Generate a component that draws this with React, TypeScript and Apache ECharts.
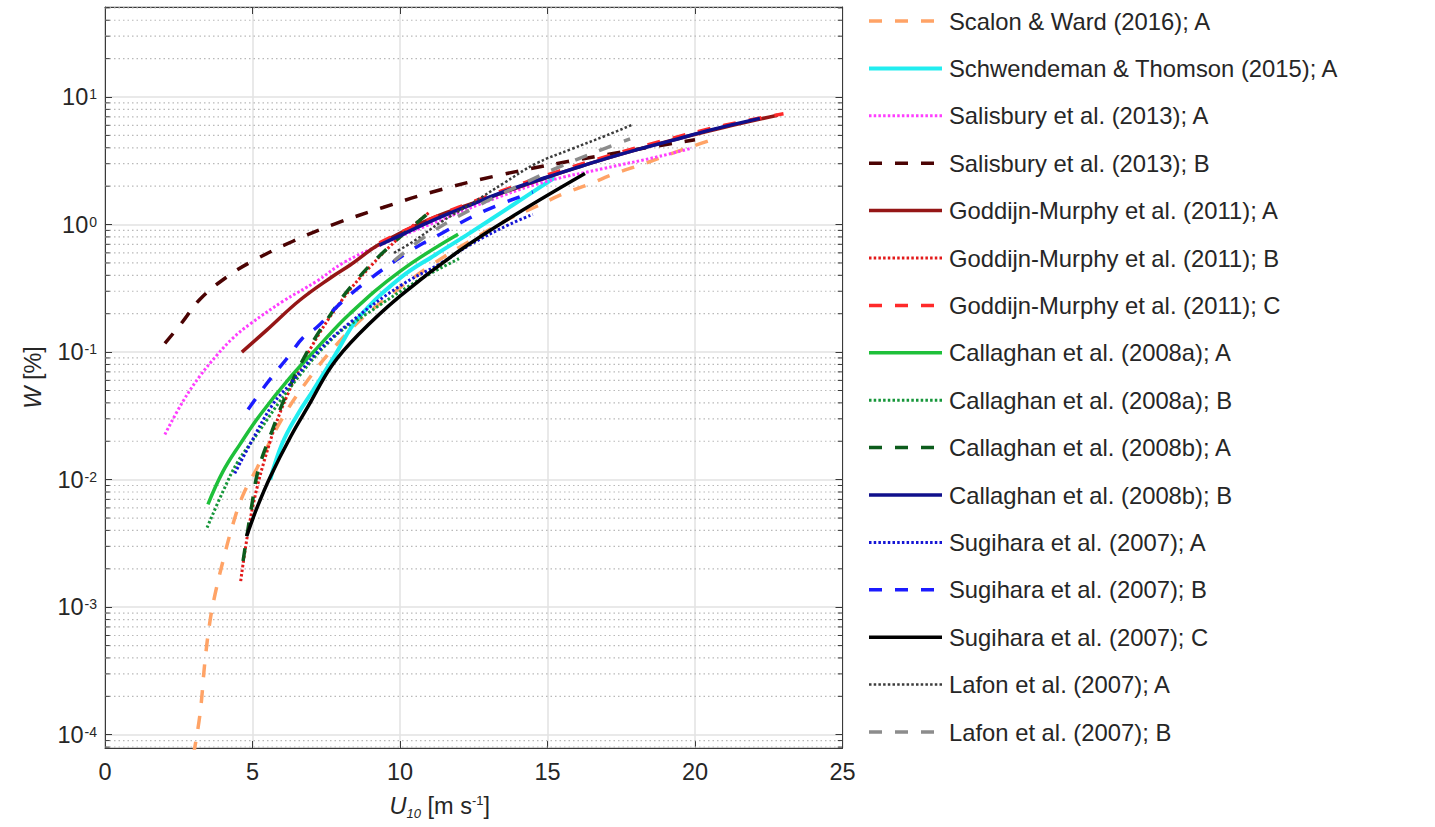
import React, { useEffect, useRef } from "react";
import * as echarts from "echarts";

const FONT = "'Liberation Sans', Arial, Helvetica, sans-serif";
const TEXT = "#262626";
const AXIS = "#3a3a3a";

// axes
const X_MIN = 0;
const X_MAX = 25;
const X_STEP = 5;
const Y_MIN = 7.87e-5;
const Y_MAX = 50.8;
const minorMultipliers = [2, 3, 4, 5, 6, 7, 8, 9];
const decadeExponents = [-5, -4, -3, -2, -1, 0, 1];

// data: U10 [m/s] and W [%]
const scalonU = [3.0, 3.22, 3.39, 3.56, 3.73, 4.0, 4.34, 4.68, 5.15, 6.0, 7.0, 8.0, 9.0, 10, 11, 12, 12.8, 13.8, 14.6, 15.5, 16.4, 17.3, 18.2, 19.2, 20.2, 20.85];
const scalonW = [7.0e-5, 1.45e-4, 3.8e-4, 7.8e-4, 1.26e-3, 2.3e-3, 4.5e-3, 7.6e-3, 0.0123, 0.03, 0.066, 0.125, 0.21, 0.32, 0.47, 0.66, 0.85, 1.14, 1.38, 1.73, 2.07, 2.52, 2.96, 3.6, 4.33, 4.84];

const schwU = [5.6, 6.0, 6.5, 7.05, 7.8, 8.58, 10, 11.2, 12.27, 13.8, 15.25];
const schwW = [0.01, 0.019, 0.0316, 0.05, 0.095, 0.184, 0.38, 0.58, 0.83, 1.41, 2.34];

const salAU = [2.03, 2.64, 3.22, 3.8, 4.34, 4.92, 6.03, 7.18, 8.07, 9.32, 11, 13.4, 15, 16.9, 18.8, 19.9];
const salAW = [0.0226, 0.041, 0.065, 0.095, 0.129, 0.166, 0.25, 0.36, 0.5, 0.69, 1.0, 1.66, 2.19, 2.75, 3.43, 3.98];

const salBU = [2.03, 2.64, 3.22, 4.14, 5.02, 6.37, 7.73, 9.42, 11.1, 13.4, 16.8, 20];
const salBW = [0.117, 0.174, 0.26, 0.39, 0.52, 0.74, 1.0, 1.36, 1.8, 2.45, 3.47, 4.62];

const gmAU = [4.64, 5.5, 6.6, 7.7, 8.3, 9.3, 11, 13, 15, 17, 19, 21, 22.8];
const gmAW = [0.1, 0.15, 0.255, 0.39, 0.48, 0.7, 1.1, 1.62, 2.35, 3.3, 4.45, 5.8, 7.2];

const gmBU = [4.6, 5.0, 5.6, 6.2, 7.0, 8.0, 9.0, 10.0, 11.0];
const gmBW = [0.0016, 0.006, 0.02, 0.047, 0.11, 0.25, 0.47, 0.8, 1.25];

const gmCU = [9.3, 11, 13, 15, 17, 19, 21, 23];
const gmCW = [0.72, 1.1, 1.68, 2.45, 3.42, 4.6, 6.0, 7.4];

const cal08aAU = [3.49, 4.0, 4.58, 5.25, 6.27, 7.18, 8.3, 10, 11.97];
const cal08aAW = [0.0064, 0.0116, 0.019, 0.032, 0.063, 0.107, 0.2, 0.43, 0.84];

const cal08aBU = [3.46, 4.0, 4.5, 5.15, 6.27, 7.73, 8.88, 10.58, 12.0];
const cal08aBW = [0.0042, 0.0081, 0.0138, 0.0226, 0.0525, 0.129, 0.2, 0.36, 0.54];

const cal08bAU = [4.68, 5.0, 5.2, 5.66, 6.17, 6.85, 7.53, 8.4, 9.66, 11.1];
const cal08bAW = [0.0023, 0.0068, 0.012, 0.024, 0.048, 0.1, 0.18, 0.34, 0.68, 1.3];

const cal08bBU = [9.3, 10, 11, 12.4, 13.5, 15, 16, 17, 18.1, 19.2, 20.5, 22.2];
const cal08bBW = [0.69, 0.82, 1.05, 1.43, 1.8, 2.36, 2.8, 3.3, 3.9, 4.55, 5.5, 6.8];

const sugAU = [4.4, 4.92, 5.69, 6.27, 7.2, 8.3, 10, 11.4, 12.4, 13.7, 14.5];
const sugAW = [0.0112, 0.019, 0.039, 0.056, 0.1, 0.17, 0.33, 0.5, 0.7, 1.0, 1.2];

const sugBU = [4.85, 5.49, 6.27, 6.7, 7.2, 7.97, 8.88, 10.34, 11.36, 12.8, 14.5];
const sugBW = [0.0355, 0.057, 0.0955, 0.129, 0.158, 0.24, 0.36, 0.62, 0.84, 1.26, 1.8];

const sugCU = [4.8, 5.15, 5.6, 6.3, 6.9, 7.7, 8.6, 10, 12, 14, 16.27];
const sugCW = [0.0036, 0.006, 0.0105, 0.0219, 0.038, 0.079, 0.138, 0.275, 0.62, 1.23, 2.51];

const lafonAU = [9.8, 10.5, 11.4, 12.4, 13.5, 14.6, 15.8, 17.0, 17.9];
const lafonAW = [0.6, 0.75, 1.05, 1.45, 2.1, 3.0, 3.9, 5.0, 6.1];

const lafonBU = [9.8, 11, 12.5, 14, 15.5, 17, 17.8];
const lafonBW = [0.52, 0.85, 1.35, 2.0, 2.9, 4.0, 4.7];

type Kind = "solid" | "dashed" | "dotted";
interface Def { name: string; u: number[]; w: number[]; color: string; kind: Kind; width: number; }

const defs: Def[] = [
  { name: "Scalon & Ward (2016); A", u: scalonU, w: scalonW, color: "#FFA366", kind: "dashed", width: 3.5 },
  { name: "Schwendeman & Thomson (2015); A", u: schwU, w: schwW, color: "#22EDF0", kind: "solid", width: 4 },
  { name: "Salisbury et al. (2013); A", u: salAU, w: salAW, color: "#FF3DFF", kind: "dotted", width: 3 },
  { name: "Salisbury et al. (2013); B", u: salBU, w: salBW, color: "#4B0303", kind: "dashed", width: 3.5 },
  { name: "Goddijn-Murphy et al. (2011); A", u: gmAU, w: gmAW, color: "#951616", kind: "solid", width: 3.5 },
  { name: "Goddijn-Murphy et al. (2011); B", u: gmBU, w: gmBW, color: "#E31A1A", kind: "dotted", width: 3 },
  { name: "Goddijn-Murphy et al. (2011); C", u: gmCU, w: gmCW, color: "#FF2A2A", kind: "dashed", width: 3.5 },
  { name: "Callaghan et al. (2008a); A", u: cal08aAU, w: cal08aAW, color: "#1EC03A", kind: "solid", width: 3.5 },
  { name: "Callaghan et al. (2008a); B", u: cal08aBU, w: cal08aBW, color: "#16963A", kind: "dotted", width: 3 },
  { name: "Callaghan et al. (2008b); A", u: cal08bAU, w: cal08bAW, color: "#0C5C1C", kind: "dashed", width: 3.5 },
  { name: "Callaghan et al. (2008b); B", u: cal08bBU, w: cal08bBW, color: "#10108C", kind: "solid", width: 3.5 },
  { name: "Sugihara et al. (2007); A", u: sugAU, w: sugAW, color: "#1515D5", kind: "dotted", width: 3 },
  { name: "Sugihara et al. (2007); B", u: sugBU, w: sugBW, color: "#1B1BFF", kind: "dashed", width: 3.5 },
  { name: "Sugihara et al. (2007); C", u: sugCU, w: sugCW, color: "#000000", kind: "solid", width: 3.5 },
  { name: "Lafon et al. (2007); A", u: lafonAU, w: lafonAW, color: "#3C3C3C", kind: "dotted", width: 2.5 },
  { name: "Lafon et al. (2007); B", u: lafonBU, w: lafonBW, color: "#8C8C8C", kind: "dashed", width: 3.5 },
];

function lineStyleFor(d: Def) {
  if (d.kind === "dashed") return { color: d.color, width: d.width, type: [13, 13], cap: "butt" };
  if (d.kind === "dotted") return { color: d.color, width: d.width, type: [2.5, 2.2], cap: "butt" };
  return { color: d.color, width: d.width, type: "solid" };
}

const minorVals = decadeExponents
  .flatMap((e) => minorMultipliers.map((m) => m * Math.pow(10, e)))
  .filter((v) => v > Y_MIN && v < Y_MAX);

function buildOption() {
  const curveSeries = defs.map((d) => ({
    type: "line",
    name: d.name,
    data: d.u.map((x, i) => [x, d.w[i]]),
    symbol: "none",
    showSymbol: false,
    smooth: 0.4,
    clip: true,
    silent: true,
    z: 3,
    lineStyle: lineStyleFor(d),
    itemStyle: { color: d.color },
    emphasis: { disabled: true },
  }));

  const minorGrid = {
    type: "line",
    name: "minorGrid",
    data: minorVals.flatMap((v) => [[X_MIN, v], [X_MAX, v], [12.5, "-"]]),
    symbol: "none",
    silent: true,
    z: 1,
    connectNulls: false,
    lineStyle: { color: "#b9b9b9", width: 1.2, type: [1.5, 3] },
    emphasis: { disabled: true },
  };

  const minorTicks = {
    type: "line",
    name: "minorTicks",
    data: minorVals.flatMap((v) => [
      [X_MIN, v], [X_MIN + 0.16, v], [1, "-"],
      [X_MAX - 0.16, v], [X_MAX, v], [24, "-"],
    ]),
    symbol: "none",
    silent: true,
    z: 4,
    connectNulls: false,
    lineStyle: { color: AXIS, width: 1 },
    emphasis: { disabled: true },
  };

  const yLabel = {
    showMinLabel: false,
    showMaxLabel: false,
    margin: 8,
    color: TEXT,
    formatter: (v: number) => `{b|10}{s|${Math.round(Math.log10(v))}}`,
    rich: {
      b: { fontSize: 23.5, color: TEXT, fontFamily: FONT, lineHeight: 26 },
      s: { fontSize: 14, color: TEXT, fontFamily: FONT, lineHeight: 14, verticalAlign: "top", padding: [3, 0, 0, 1] },
    },
  };

  return {
    animation: false,
    backgroundColor: "#ffffff",
    textStyle: { fontFamily: FONT },
    grid: {
      left: 105,
      top: 7,
      width: 737.5,
      height: 741,
      show: true,
      borderColor: AXIS,
      borderWidth: 1,
      backgroundColor: "#ffffff",
      containLabel: false,
      outerBoundsMode: "none",
    },
    legend: {
      data: defs.map((d) => d.name),
      orient: "vertical",
      left: 867,
      top: 8,
      padding: 0,
      itemWidth: 73,
      itemHeight: 14,
      itemGap: 21.4,
      selectedMode: false,
      itemStyle: { opacity: 0 },
      lineStyle: { width: "inherit" },
      textStyle: { fontSize: 23.8, color: TEXT, fontFamily: FONT, lineHeight: 26, padding: [0, 0, 0, 2] },
    },
    xAxis: [
      {
        type: "value",
        min: X_MIN,
        max: X_MAX,
        interval: X_STEP,
        position: "bottom",
        name: "{it|U}{sub|10} [m s{sup|-1}]",
        nameLocation: "middle",
        nameGap: 44,
        nameTextStyle: {
          fontSize: 23.5,
          color: TEXT,
          fontFamily: FONT,
          lineHeight: 28,
          padding: [0, 68, 0, 0],
          rich: {
            it: { fontStyle: "italic", fontSize: 23.5, color: TEXT, fontFamily: FONT },
            sub: { fontStyle: "italic", fontSize: 13, color: TEXT, fontFamily: FONT, lineHeight: 13, verticalAlign: "bottom" },
            sup: { fontSize: 13, color: TEXT, fontFamily: FONT, lineHeight: 13, verticalAlign: "top", padding: [2, 0, 0, 0] },
          },
        },
        axisLine: { show: true, onZero: false, lineStyle: { color: AXIS, width: 1 } },
        axisTick: { show: true, inside: true, length: 7, lineStyle: { color: AXIS } },
        axisLabel: { show: true, margin: 12, fontSize: 23.5, color: TEXT, fontFamily: FONT },
        splitLine: { show: true, lineStyle: { color: "#e2e2e2", width: 1.5 } },
      },
      {
        type: "value",
        min: X_MIN,
        max: X_MAX,
        interval: X_STEP,
        position: "top",
        axisLine: { show: true, onZero: false, lineStyle: { color: AXIS, width: 1 } },
        axisTick: { show: true, inside: true, length: 7, lineStyle: { color: AXIS } },
        axisLabel: { show: false },
        splitLine: { show: false },
      },
    ],
    yAxis: [
      {
        type: "log",
        logBase: 10,
        min: Y_MIN,
        max: Y_MAX,
        position: "left",
        name: "{it|W} [%]",
        nameLocation: "middle",
        nameGap: 60,
        nameTextStyle: {
          fontSize: 23.5,
          color: TEXT,
          fontFamily: FONT,
          rich: { it: { fontStyle: "italic", fontSize: 23.5, color: TEXT, fontFamily: FONT } },
        },
        axisLine: { show: true, onZero: false, lineStyle: { color: AXIS, width: 1 } },
        axisTick: { show: true, inside: true, length: 7, lineStyle: { color: AXIS } },
        axisLabel: yLabel,
        splitLine: { show: true, lineStyle: { color: "#e2e2e2", width: 1.5 } },
      },
      {
        type: "log",
        logBase: 10,
        min: Y_MIN,
        max: Y_MAX,
        position: "right",
        axisLine: { show: true, onZero: false, lineStyle: { color: AXIS, width: 1 } },
        axisTick: { show: true, inside: true, length: 7, lineStyle: { color: AXIS } },
        axisLabel: { show: false },
        splitLine: { show: false },
      },
    ],
    series: [minorGrid, ...curveSeries, minorTicks],
  };
}

export default function App() {
  const ref = useRef<HTMLDivElement>(null);
  useEffect(() => {
    if (!ref.current) return;
    const chart = echarts.init(ref.current, null, { renderer: "svg" });
    chart.setOption(buildOption() as any);
    return () => chart.dispose();
  }, []);
  return (
    <div
      ref={ref}
      style={{ position: "fixed", left: 0, top: 0, width: 1435, height: 827, background: "#fff" }}
    />
  );
}
